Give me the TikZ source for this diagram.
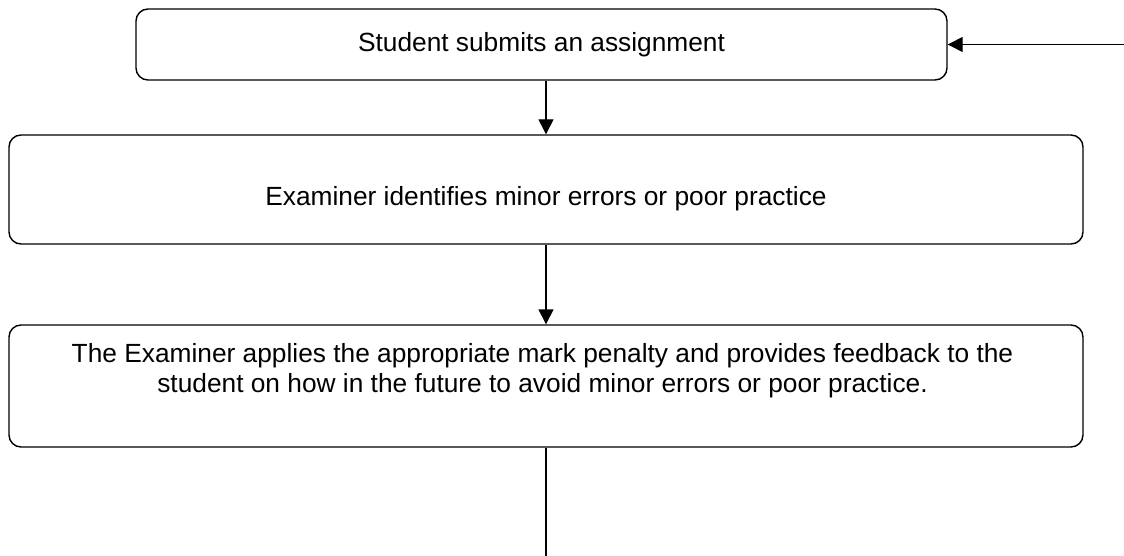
\documentclass[tikz,border=0pt]{standalone}
\usepackage{fontspec}
\setmainfont{Liberation Sans}
\usetikzlibrary{arrows.meta}

\begin{document}
\begin{tikzpicture}[x=1pt,y=-1pt,
    box/.style={draw,rounded corners=12pt,line width=1.4pt,inner sep=0pt},
    lbl/.style={font=\fontsize{26.3}{30}\selectfont,align=center},
    flow/.style={line width=1.4pt,-{Triangle[length=15pt,width=15pt]}}]
  \useasboundingbox (0,0) rectangle (1124,556);

  \node[box,minimum width=811pt,minimum height=71pt] (submit) at (541.5,44.5) {};
  \node[box,minimum width=1074pt,minimum height=109pt] (identify) at (546,189.5) {};
  \node[box,minimum width=1074pt,minimum height=122pt] (penalty) at (546,386) {};

  \node[lbl] (submittxt) at (541.5,44.5) {Student submits an assignment};
  \node[lbl] (identifytxt) at (546,199) {Examiner identifies minor errors or poor practice};
  \node[lbl] (penaltytxt) at (542.5,371) {The Examiner applies the appropriate mark penalty and provides feedback to the\\
    student on how in the future to avoid minor errors or poor practice.};

  \coordinate (back) at (1124,44.5);
  \coordinate (tail) at (546,556);

  \draw[flow] (submit.south -| identify) -- (identify.north);
  \draw[flow] (identify.south) -- (penalty.north);
  \draw[flow] (back) -- (submit.east);
  \draw[line width=1.4pt] (penalty.south) -- (tail);
\end{tikzpicture}
\end{document}
